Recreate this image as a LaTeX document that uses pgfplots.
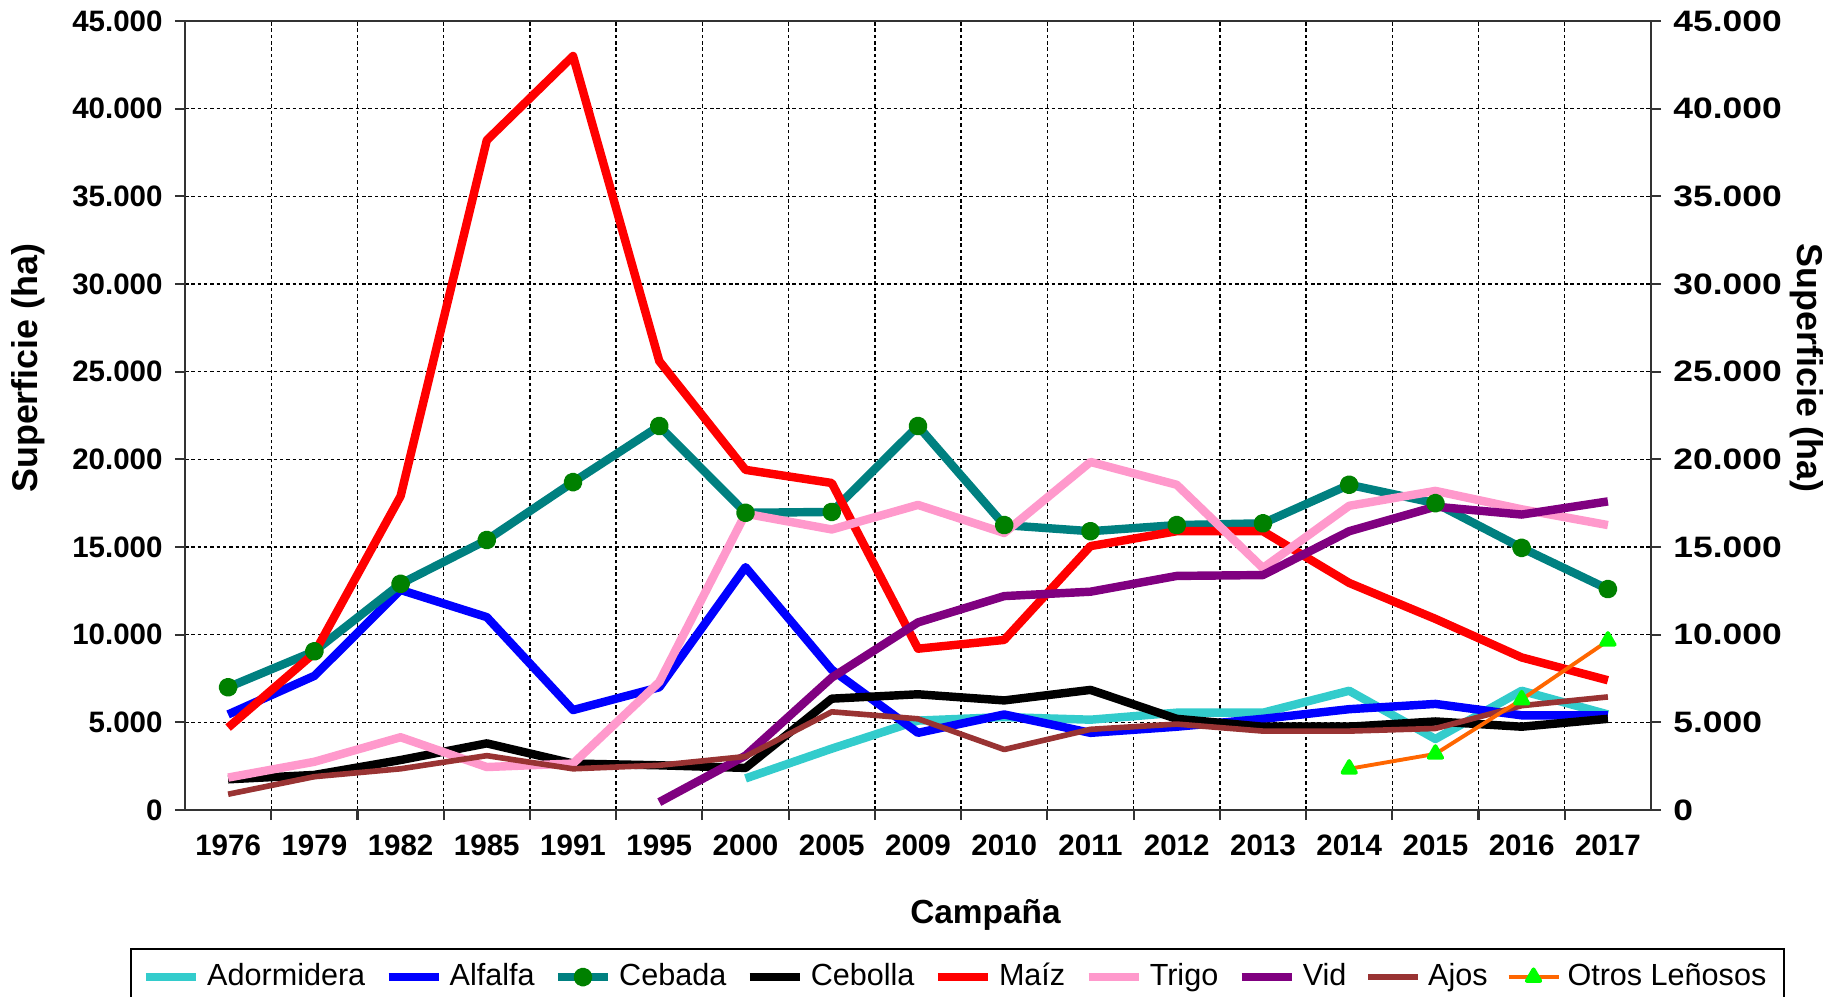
\documentclass[border=0pt]{standalone}
\usepackage{fontspec}
\setmainfont{Liberation Sans}
\newfontfamily\wideft[FakeStretch=1.2]{Liberation Sans}
\usepackage{pgfplots}
\pgfplotsset{compat=1.18}

\definecolor{cAdo}{RGB}{51,204,204}
\definecolor{cAlf}{RGB}{0,0,255}
\definecolor{cCeb}{RGB}{0,128,128}
\definecolor{cCebM}{RGB}{0,128,0}
\definecolor{cMai}{RGB}{255,0,0}
\definecolor{cTri}{RGB}{255,153,204}
\definecolor{cVid}{RGB}{128,0,128}
\definecolor{cAjo}{RGB}{153,51,51}
\definecolor{cOtr}{RGB}{255,102,0}
\definecolor{cOtrM}{RGB}{0,255,0}

\pgfplotsset{
  base/.style={
    scale only axis, width=14.66cm, height=7.89cm,
    xmin=-0.5, xmax=16.5, ymin=0, ymax=45000,
    ytick={0,5000,10000,15000,20000,25000,30000,35000,40000,45000},
    yticklabels={0,5.000,10.000,15.000,20.000,25.000,30.000,35.000,40.000,45.000},
    tick align=outside, major tick length=0.1cm,
    axis line style={line width=0.6pt, black!80},
    tick style={line width=0.6pt, black!80},
  },
}

\begin{document}
\begin{tikzpicture}
\begin{axis}[base,
  xtick={0.5,1.5,...,15.5}, xticklabels={},
  extra x ticks={0,1,2,3,4,5,6,7,8,9,10,11,12,13,14,15,16},
  extra x tick labels={1976,1979,1982,1985,1991,1995,2000,2005,2009,2010,2011,2012,2013,2014,2015,2016,2017},
  extra x tick style={grid=none, major tick length=0pt, xticklabel style={yshift=-0.12cm}},
  xtick pos=lower, ytick pos=lower,
  xmajorgrids, ymajorgrids,
  grid style={black, dash pattern=on 1pt off 0.8pt, line width=0.4pt},
  ticklabel style={font=\bfseries\fontsize{8.4}{10}\selectfont},
  xlabel={Campaña},
  xlabel style={font=\bfseries\fontsize{9.5}{11}\selectfont, at={(axis description cs:0.546,-0.133)}, anchor=center},
  ylabel={Superficie (ha)},
  ylabel style={font=\bfseries\fontsize{10.2}{12}\selectfont, at={(axis description cs:-0.107,0.56)}, anchor=center},
  legend style={at={(axis description cs:0.527,-0.175)}, anchor=north, legend columns=9,
    draw=black, line width=0.6pt, font=\fontsize{8.7}{10}\selectfont,
    /tikz/every even column/.append style={column sep=0.12cm}},
  legend image code/.code={\draw[mark repeat=2,mark phase=2] plot coordinates {(0cm,0cm) (0.25cm,0cm) (0.5cm,0cm)};},
  every axis plot/.append style={line width=2.4pt, line join=round},
]
\coordinate (SW) at (rel axis cs:0,0);
\coordinate (NE) at (rel axis cs:1,1);

\addplot[cAdo] coordinates {(6,1800)(7,3500)(8,5100)(9,5300)(10,5150)(11,5550)(12,5550)(13,6800)(14,4050)(15,6800)(16,5450)};
\addlegendentry{Adormidera}
\addplot[cAlf] coordinates {(0,5450)(1,7650)(2,12550)(3,11000)(4,5700)(5,7000)(6,13850)(7,8000)(8,4400)(9,5450)(10,4400)(11,4750)(12,5200)(13,5750)(14,6050)(15,5400)(16,5400)};
\addlegendentry{Alfalfa}
\addplot[cCeb, mark=*, mark size=1.5pt, mark options={draw=cCebM, fill=cCebM}] coordinates {(0,7000)(1,9050)(2,12900)(3,15400)(4,18700)(5,21900)(6,16950)(7,17000)(8,21900)(9,16250)(10,15900)(11,16250)(12,16350)(13,18550)(14,17500)(15,14950)(16,12600)};
\addlegendentry{Cebada}
\addplot[black] coordinates {(0,1750)(1,2000)(2,2850)(3,3800)(4,2650)(5,2550)(6,2400)(7,6350)(8,6600)(9,6250)(10,6850)(11,5200)(12,4750)(13,4750)(14,5050)(15,4750)(16,5200)};
\addlegendentry{Cebolla}
\addplot[cMai] coordinates {(0,4700)(1,8950)(2,17900)(3,38200)(4,43000)(5,25600)(6,19400)(7,18650)(8,9200)(9,9700)(10,15050)(11,15900)(12,15900)(13,12950)(14,10900)(15,8700)(16,7400)};
\addlegendentry{Maíz}
\addplot[cTri] coordinates {(0,1850)(1,2750)(2,4150)(3,2450)(4,2650)(5,7300)(6,16900)(7,16000)(8,17400)(9,15800)(10,19850)(11,18550)(12,13800)(13,17350)(14,18200)(15,17150)(16,16250)};
\addlegendentry{Trigo}
\addplot[cVid] coordinates {(5,450)(6,3100)(7,7550)(8,10700)(9,12200)(10,12450)(11,13350)(12,13400)(13,15900)(14,17300)(15,16850)(16,17600)};
\addlegendentry{Vid}
\addplot[cAjo, line width=1.6pt] coordinates {(0,900)(1,1900)(2,2350)(3,3100)(4,2350)(5,2550)(6,3050)(7,5600)(8,5200)(9,3450)(10,4600)(11,4900)(12,4500)(13,4500)(14,4650)(15,5950)(16,6450)};
\addlegendentry{Ajos}
\addplot[cOtr, line width=1.1pt, mark=triangle*, mark size=2.2pt, mark options={draw=cOtrM, fill=cOtrM}] coordinates {(13,2350)(14,3200)(15,6300)(16,9650)};
\addlegendentry{Otros Leñosos}
\end{axis}

\begin{axis}[base,
  axis x line=none, axis y line*=right, xtick=\empty,
  ytick pos=upper,
  yticklabel style={font=\wideft\bfseries\fontsize{8.4}{10}\selectfont},
  ylabel={Superficie (ha)},
  ylabel style={font=\bfseries\fontsize{10.2}{12}\selectfont, at={(axis description cs:1.106,0.56)}, anchor=center, rotate=180},
]
\addplot[draw=none] coordinates {(0,0)};
\end{axis}

\pgfresetboundingbox
\path[use as bounding box] ([xshift=-1.85cm,yshift=-1.86cm]SW) rectangle ([xshift=1.88cm,yshift=0.21cm]NE);
\end{tikzpicture}
\end{document}
